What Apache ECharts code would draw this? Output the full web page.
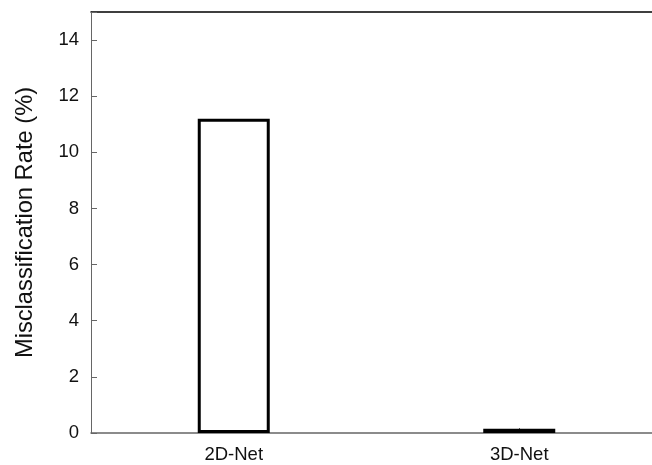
<!DOCTYPE html>
<html>
<head>
<meta charset="utf-8">
<script src="https://cdn.jsdelivr.net/npm/echarts@6/dist/echarts.min.js"></script>
<style>
  html, body { margin: 0; padding: 0; background: #fff; }
  #chart { width: 652px; height: 465px; }
</style>
</head>
<body>
<div id="chart"></div>
<script>
// Misclassification rate per network variant
const categories = ['2D-Net', '3D-Net'];
const rates = [11.2, 0.15];
const yTicks = [0, 2, 4, 6, 8, 10, 12, 14];

const FONT = 'Liberation Sans, Arial, Helvetica, sans-serif';
const chart = echarts.init(document.getElementById('chart'), null, { renderer: 'canvas' });

chart.setOption({
  animation: false,
  backgroundColor: '#ffffff',
  grid: {
    left: 91, right: -10, top: 12, bottom: 32,
    containLabel: false,
    outerBoundsMode: 'none'
  },
  xAxis: [
    {
      type: 'category',
      data: categories,
      boundaryGap: true,
      axisLine: { show: true, lineStyle: { color: '#666', width: 1.5 } },
      axisTick: { show: true, inside: true, alignWithLabel: true, length: 5, lineStyle: { color: '#666' } },
      axisLabel: { color: '#111', fontSize: 18.5, fontFamily: FONT, margin: 12 },
      splitLine: { show: false }
    },
    {
      type: 'category',
      position: 'top',
      data: categories,
      axisLine: { show: true, lineStyle: { color: '#000', width: 1.5 } },
      axisTick: { show: false },
      axisLabel: { show: false }
    }
  ],
  yAxis: {
    type: 'value',
    min: 0,
    max: 15,
    interval: 2,
    name: 'Misclassification Rate (%)',
    nameLocation: 'middle',
    nameGap: 54,
    nameTextStyle: { color: '#111', fontSize: 23.7, fontFamily: FONT },
    axisLine: { show: true, lineStyle: { color: '#666', width: 1 } },
    axisTick: { show: true, inside: true, length: 6, lineStyle: { color: '#666' } },
    axisLabel: {
      color: '#111', fontSize: 18.5, fontFamily: FONT, margin: 12,
      formatter: v => (yTicks.indexOf(v) >= 0 ? String(v) : '')
    },
    splitLine: { show: false }
  },
  series: [{
    type: 'bar',
    xAxisIndex: 0,
    data: rates,
    barWidth: 72,
    itemStyle: { color: '#ffffff', borderColor: '#000000', borderWidth: 3 },
    emphasis: { disabled: true }
  }]
});
</script>
</body>
</html>
